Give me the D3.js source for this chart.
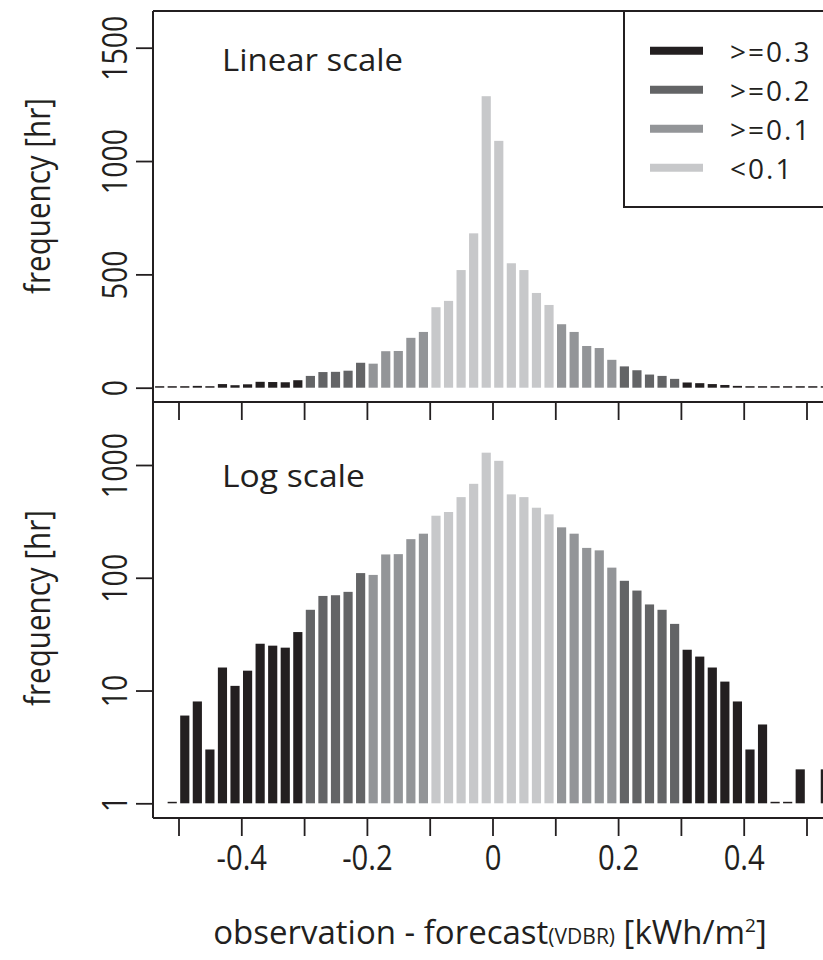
<!DOCTYPE html>
<html>
<head>
<meta charset="utf-8">
<script src="https://cdn.jsdelivr.net/npm/d3@7"></script>
<style>
  body { margin: 0; background: #fff; }
  text { font-family: "Open Sans", "Noto Sans", sans-serif; fill: #231f20; }
</style>
</head>
<body>
<svg id="chart" width="823" height="960"></svg>
<script>
// bin centres of the error histogram (bin width 0.02)
const binMids = [-0.53, -0.51, -0.49, -0.47, -0.45, -0.43, -0.41, -0.39, -0.37, -0.35,
                 -0.33, -0.31, -0.29, -0.27, -0.25, -0.23, -0.21, -0.19, -0.17, -0.15,
                 -0.13, -0.11, -0.09, -0.07, -0.05, -0.03, -0.01,
                  0.01,  0.03,  0.05,  0.07,  0.09,  0.11,  0.13,  0.15,  0.17,  0.19,
                  0.21,  0.23,  0.25,  0.27,  0.29,  0.31,  0.33,  0.35,  0.37,  0.39,
                  0.41,  0.43,  0.45,  0.47,  0.49,  0.51,  0.53];
// hours per bin
const counts = [0, 1, 6, 8, 3, 16, 11, 15, 26, 25,
                24, 33, 52, 69, 70, 75, 110, 106, 161, 162,
                220, 246, 355, 383, 519, 681, 1286,
                1089, 549, 519, 418, 365, 280, 246, 184, 175, 123,
                94, 77, 58, 52, 39, 23, 20, 16, 12, 8,
                3, 5, 1, 1, 2, 0, 2];

const xTicks = [-0.5, -0.4, -0.3, -0.2, -0.1, 0, 0.1, 0.2, 0.3, 0.4, 0.5];
const xTickLabels = [-0.4, -0.2, 0, 0.2, 0.4];
const linTicks = [0, 500, 1000, 1500];
const logTicks = [1, 10, 100, 1000];

const legendLabels = [">=0.3", ">=0.2", ">=0.1", "<0.1"];
const legendColors = ["#231f20", "#636466", "#939598", "#c7c8ca"];
const thresholds = [0.3, 0.2, 0.1];

const data = binMids.map((m, i) => ({ mid: m, n: counts[i] }));

function colorOf(m) {
    const a = Math.abs(m);
    for (let k = 0; k < thresholds.length; k++) {
        if (a >= thresholds[k]) return legendColors[k];
    }
    return legendColors[3];
}

const W = 823;
const left = 153;
const topPanel = {top: 11, bottom: 402};
const botPanel = {top: 402, bottom: 818};

const x = d3.scaleLinear().domain([-0.5, 0.5]).range([178.5, 806.5]);
const yLin = d3.scaleLinear().domain([0, 1500]).range([387.7, 47.7]);
const yLog = d3.scaleLog().domain([1, 1000]).range([803.3, 465]);

const binPx = x(0.02) - x(0);
const barW = binPx * 0.73;

const svg = d3.select("#chart");

// clip areas
const defs = svg.append("defs");
defs.append("clipPath").attr("id", "clipTop").append("rect")
    .attr("x", left).attr("y", topPanel.top).attr("width", W - left).attr("height", topPanel.bottom - topPanel.top);
defs.append("clipPath").attr("id", "clipBot").append("rect")
    .attr("x", left).attr("y", botPanel.top).attr("width", W - left).attr("height", botPanel.bottom - botPanel.top);

// linear bars
svg.append("g").attr("clip-path", "url(#clipTop)")
    .selectAll("rect")
    .data(data)
    .join("rect")
    .attr("x", d => x(d.mid) - barW / 2)
    .attr("width", barW)
    .attr("y", d => Math.min(yLin(d.n), yLin(0) - 1.5))
    .attr("height", d => Math.max(yLin(0) - yLin(d.n), 1.5))
    .attr("fill", d => colorOf(d.mid));

// log bars (zero counts are not drawn)
svg.append("g").attr("clip-path", "url(#clipBot)")
    .selectAll("rect")
    .data(data.filter(d => d.n > 0))
    .join("rect")
    .attr("x", d => x(d.mid) - barW / 2)
    .attr("width", barW)
    .attr("y", d => Math.min(yLog(d.n), yLog(1) - 1.5))
    .attr("height", d => Math.max(yLog(1) - yLog(d.n), 1.5))
    .attr("fill", d => colorOf(d.mid));

// frame lines
const frame = svg.append("g").attr("stroke", "#231f20").attr("stroke-width", 2).attr("fill", "none");
frame.append("line").attr("x1", left).attr("x2", left).attr("y1", topPanel.top).attr("y2", botPanel.bottom);
frame.append("line").attr("x1", left).attr("x2", W).attr("y1", topPanel.top).attr("y2", topPanel.top);
frame.append("line").attr("x1", left).attr("x2", W).attr("y1", topPanel.bottom).attr("y2", topPanel.bottom);
frame.append("line").attr("x1", left).attr("x2", W).attr("y1", botPanel.bottom).attr("y2", botPanel.bottom);

function styleAxis(g) {
    g.select(".domain").remove();
    g.selectAll(".tick line").attr("stroke", "#231f20").attr("stroke-width", 1.8);
    g.selectAll(".tick text").attr("font-size", 34).attr("fill", "#231f20")
        .attr("font-family", '"Open Sans", "Noto Sans", sans-serif');
}

// y axes (labels parallel to the axis, slightly narrow)
function rotateYLabels(g) {
    g.selectAll(".tick text")
        .attr("x", null).attr("dy", null)
        .attr("text-anchor", "middle")
        .attr("transform", "translate(-26,0) rotate(-90) scale(0.84,1)");
}

svg.append("g")
    .attr("transform", `translate(${left},0)`)
    .call(d3.axisLeft(yLin).tickValues(linTicks).tickSize(17).tickFormat(String))
    .call(styleAxis)
    .call(rotateYLabels);

svg.append("g")
    .attr("transform", `translate(${left},0)`)
    .call(d3.axisLeft(yLog).tickValues(logTicks).tickSize(17).tickFormat(String))
    .call(styleAxis)
    .call(rotateYLabels);

// x axes
svg.append("g")
    .attr("transform", `translate(0,${topPanel.bottom})`)
    .call(d3.axisBottom(x).tickValues(xTicks).tickSize(18).tickFormat(""))
    .call(styleAxis);

svg.append("g")
    .attr("transform", `translate(0,${botPanel.bottom})`)
    .call(d3.axisBottom(x).tickValues(xTicks).tickSize(18).tickPadding(10)
        .tickFormat(v => xTickLabels.includes(v) ? String(v) : ""))
    .call(styleAxis)
    .call(g => g.selectAll(".tick text").each(function() {
        const t = d3.select(this);
        t.attr("transform", `translate(0,${t.attr("y")}) scale(0.86,1)`).attr("y", 0);
    }));

// panel titles
svg.append("text").attr("x", 222).attr("y", 70.7).attr("font-size", 31)
    .attr("textLength", 181).attr("lengthAdjust", "spacingAndGlyphs").text("Linear scale");
svg.append("text").attr("x", 222).attr("y", 487.3).attr("font-size", 31)
    .attr("textLength", 143).attr("lengthAdjust", "spacingAndGlyphs").text("Log scale");

// y titles
[[196, "frequency [hr]"], [608, "frequency [hr]"]].forEach(([cy, t]) => {
    svg.append("text")
        .attr("transform", `translate(50,${cy}) rotate(-90) scale(0.87,1)`)
        .attr("text-anchor", "middle").attr("font-size", 34).text(t);
});

// x title
const xt = svg.append("text").attr("x", 490).attr("y", 944)
    .attr("text-anchor", "middle").attr("font-size", 33);
xt.append("tspan").text("observation - forecast");
xt.append("tspan").attr("font-size", 21).text("(VDBR)");
xt.append("tspan").text(" [kWh/m");
xt.append("tspan").attr("font-size", 19).attr("dy", -12).text("2");
xt.append("tspan").attr("dy", 12).text("]");

// legend
const lg = svg.append("g");
lg.append("rect").attr("x", 624).attr("y", topPanel.top).attr("width", 220).attr("height", 196)
    .attr("fill", "#fff").attr("stroke", "#231f20").attr("stroke-width", 2);
legendLabels.forEach((lab, i) => {
    const ry = 50.7 + i * 39;
    lg.append("line").attr("x1", 650).attr("x2", 703).attr("y1", ry).attr("y2", ry)
        .attr("stroke", legendColors[i]).attr("stroke-width", 8);
    lg.append("text").attr("x", 730).attr("y", ry + 11).attr("font-size", 28)
        .attr("letter-spacing", 2).text(lab);
});
</script>
</body>
</html>
